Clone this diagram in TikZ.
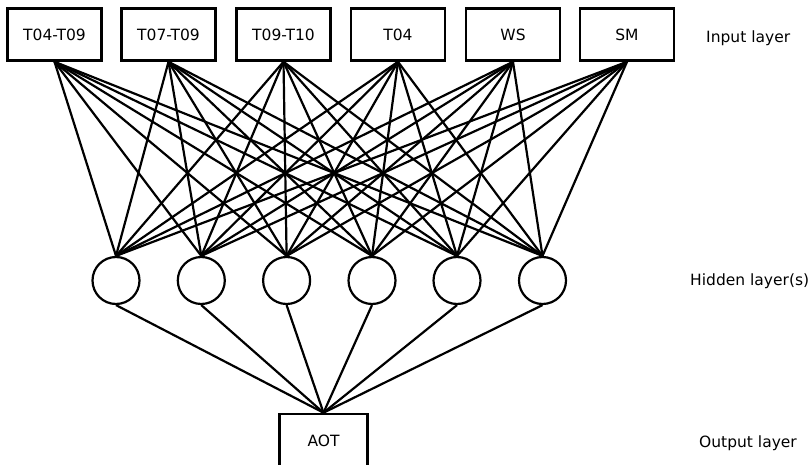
\documentclass[tikz,border=0pt]{standalone}
\usepackage{fontspec}
\setmainfont{DejaVu Sans}
\begin{document}
\begin{tikzpicture}[x=1pt,y=-1pt,
  inbox/.style={draw,line width=2.6pt,minimum width=94pt,minimum height=52pt,inner sep=0pt,font=\fontsize{15.5}{18}\selectfont},
  hid/.style={draw,circle,line width=2.2pt,minimum size=47pt,inner sep=0pt},
  lbl/.style={font=\fontsize{15.5}{18}\selectfont,inner sep=0pt},
  conn/.style={line width=2.2pt}]
\useasboundingbox (0,0) rectangle (808,465);
\foreach \n/\x/\t in {1/54.5/T04-T09,2/168.5/T07-T09,3/283.5/T09-T10,4/398/T04,5/513/WS,6/627/SM}
  \node[inbox] (i\n) at (\x,34.5) {\t};
\foreach \n/\x in {1/116,2/201.3,3/286.6,4/372,5/457,6/542.5}
  \node[hid] (h\n) at (\x,280.5) {};
\node[inbox,minimum width=88pt,minimum height=54pt] (o) at (323.5,441) {};
\node[lbl] (ot) at (323.5,441) {AOT};
\node[lbl,anchor=west] (l1) at (706,38) {Input layer};
\node[lbl,anchor=west] (l2) at (690,281) {Hidden layer(s)};
\node[lbl,anchor=west] (l3) at (699,443) {Output layer};
\foreach \i in {1,...,6}
  \foreach \j in {1,...,6}
    \draw[conn] (i\i.south) -- (h\j.north);
\foreach \j in {1,...,6}
  \draw[conn] (h\j.south) -- (o.north);
\end{tikzpicture}
\end{document}
